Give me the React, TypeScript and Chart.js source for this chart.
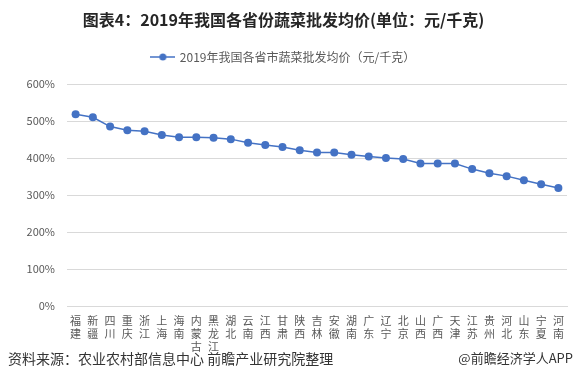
import React, { useEffect, useRef } from "react";
import { Chart, registerables } from "chart.js";

Chart.register(...registerables);

const titleText = "图表4：2019年我国各省份蔬菜批发均价(单位：元/千克)";
const seriesName = "2019年我国各省市蔬菜批发均价（元/千克）";
const sourceText = "资料来源：农业农村部信息中心 前瞻产业研究院整理";
const brandText = "@前瞻经济学人APP";

const provinces = [
  "福建", "新疆", "四川", "重庆", "浙江", "上海", "海南", "内蒙古", "黑龙江", "湖北",
  "云南", "江西", "甘肃", "陕西", "吉林", "安徽", "湖南", "广东", "辽宁", "北京",
  "山西", "广西", "天津", "江苏", "贵州", "河北", "山东", "宁夏", "河南",
];

const prices = [
  5.18, 5.1, 4.85, 4.75, 4.72, 4.62, 4.56, 4.56, 4.55, 4.51,
  4.41, 4.35, 4.3, 4.21, 4.15, 4.15, 4.09, 4.04, 4.0, 3.97,
  3.85, 3.85, 3.85, 3.7, 3.59, 3.51, 3.4, 3.29, 3.19,
];

const yTickLabels = ["0%", "100%", "200%", "300%", "400%", "500%", "600%"];

const FONT = '"Noto Sans CJK SC", "Noto Sans", sans-serif';
const BLUE = "#4472C4";

function makeLegendIcon(): HTMLCanvasElement {
  const c = document.createElement("canvas");
  c.width = 25;
  c.height = 10;
  const ctx = c.getContext("2d")!;
  ctx.strokeStyle = BLUE;
  ctx.lineWidth = 1.5;
  ctx.beginPath();
  ctx.moveTo(0, 5);
  ctx.lineTo(25, 5);
  ctx.stroke();
  ctx.fillStyle = BLUE;
  ctx.beginPath();
  ctx.arc(12.5, 5, 3.5, 0, Math.PI * 2);
  ctx.fill();
  return c;
}

export default function App() {
  const canvasRef = useRef<HTMLCanvasElement | null>(null);

  useEffect(() => {
    Chart.defaults.font.family = FONT;
    const icon = makeLegendIcon();
    const chart = new Chart(canvasRef.current!, {
      type: "line",
      data: {
        labels: provinces.map((p) => p.split("")),
        datasets: [
          {
            label: seriesName,
            data: prices,
            borderColor: BLUE,
            backgroundColor: BLUE,
            borderWidth: 1.5,
            pointRadius: 4,
            pointBackgroundColor: BLUE,
            pointBorderColor: BLUE,
            pointBorderWidth: 0,
            tension: 0,
          },
        ],
      },
      options: {
        responsive: false,
        animation: false,
        layout: { padding: { left: 0, right: 11, top: 0, bottom: 0 } },
        plugins: {
          title: {
            display: true,
            text: titleText,
            color: "#262626",
            font: { size: 16, weight: "bold", family: FONT },
            padding: { top: 10, bottom: 11.8 },
          },
          subtitle: {
            display: true,
            text: "",
            position: "top",
            weight: 500,
            font: { size: 10, lineHeight: 1 },
            padding: { top: 0, bottom: 1 },
          },
          legend: {
            display: true,
            position: "top",
            labels: {
              usePointStyle: true,
              pointStyle: icon as any,
              pointStyleWidth: 22,
              padding: 10,
              color: "#595959",
              font: { size: 12, family: FONT },
            },
          },
          tooltip: { enabled: false },
        },
        scales: {
          x: {
            offset: true,
            grid: { display: false, drawTicks: false },
            border: { display: true, color: "#d9d9d9" },
            ticks: {
              autoSkip: false,
              maxRotation: 0,
              minRotation: 0,
              padding: 9,
              color: "#595959",
              font: { size: 11, lineHeight: 1.14 },
            },
            afterFit: (s: any) => {
              s.height = 80;
            },
          },
          y: {
            min: 0,
            max: 6,
            grid: { color: "#d9d9d9", drawTicks: false },
            border: { display: false },
            ticks: {
              stepSize: 1,
              padding: 12,
              color: "#595959",
              font: { size: 11 },
              callback: (v: any) => yTickLabels[Math.round(Number(v))],
            },
            afterFit: (s: any) => {
              s.width = 67;
            },
          },
        },
      },
    });
    return () => chart.destroy();
  }, []);

  return (
    <div
      style={{
        position: "fixed",
        left: 0,
        top: 0,
        width: 578,
        height: 386,
        background: "#fff",
        fontFamily: FONT,
      }}
    >
      <canvas ref={canvasRef} width={578} height={386} style={{ position: "absolute", left: 0, top: 0 }} />
      <div
        style={{
          position: "absolute",
          left: 8,
          top: 348,
          fontSize: 14,
          lineHeight: "20px",
          color: "#333",
          whiteSpace: "nowrap",
        }}
      >
        {sourceText}
      </div>
      <div
        style={{
          position: "absolute",
          right: 5,
          top: 349,
          fontSize: 13,
          lineHeight: "18px",
          color: "#333",
          whiteSpace: "nowrap",
        }}
      >
        {brandText}
      </div>
    </div>
  );
}
